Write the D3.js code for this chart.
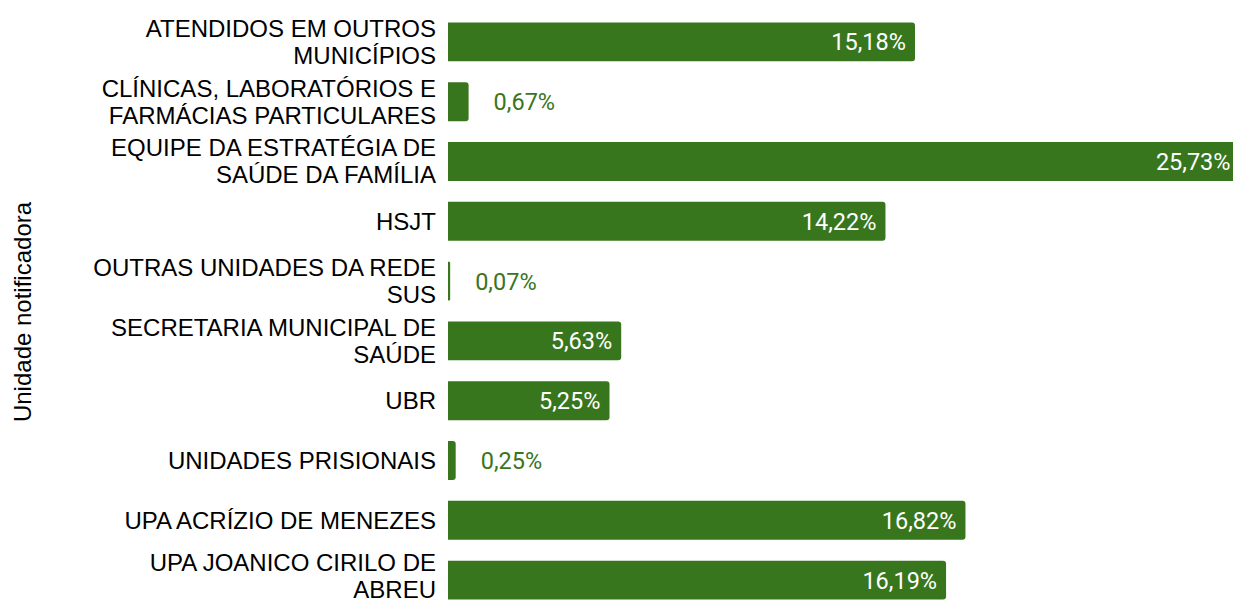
<!DOCTYPE html>
<html>
<head>
<meta charset="utf-8">
<script src="https://cdn.jsdelivr.net/npm/d3@7"></script>
<style>
  body { margin: 0; background: #fff; }
  svg { display: block; }
</style>
</head>
<body>
<svg id="chart" width="1233" height="601"></svg>
<script>
// categories (each label split into its display lines)
var categories = [
  ["ATENDIDOS EM OUTROS", "MUNICÍPIOS"],
  ["CLÍNICAS, LABORATÓRIOS E", "FARMÁCIAS PARTICULARES"],
  ["EQUIPE DA ESTRATÉGIA DE", "SAÚDE DA FAMÍLIA"],
  ["HSJT"],
  ["OUTRAS UNIDADES DA REDE", "SUS"],
  ["SECRETARIA MUNICIPAL DE", "SAÚDE"],
  ["UBR"],
  ["UNIDADES PRISIONAIS"],
  ["UPA ACRÍZIO DE MENEZES"],
  ["UPA JOANICO CIRILO DE", "ABREU"]
];
var values = [15.18, 0.67, 25.73, 14.22, 0.07, 5.63, 5.25, 0.25, 16.82, 16.19];
var valueLabels = ["15,18%", "0,67%", "25,73%", "14,22%", "0,07%", "5,63%", "5,25%", "0,25%", "16,82%", "16,19%"];

var green = "#38761d";
var svg = d3.select("#chart");
var left = 448;

var x = d3.scaleLinear().domain([0, 15.18]).range([left, 915]);
var y = d3.scaleBand().domain(d3.range(values.length)).range([12, 610]).paddingInner(0.35).paddingOuter(0.175);

svg.append("defs").append("clipPath").attr("id", "plot")
  .append("rect").attr("x", 0).attr("y", 0).attr("width", 1233).attr("height", 601);

var g = svg.append("g").attr("clip-path", "url(#plot)");

function barPath(d, i) {
  var x0 = left, x1 = x(d), y0 = y(i), h = y.bandwidth();
  var r = Math.min(3, (x1 - x0) / 2);
  return "M" + x0 + "," + y0 + "H" + (x1 - r) + "Q" + x1 + "," + y0 + " " + x1 + "," + (y0 + r) +
    "V" + (y0 + h - r) + "Q" + x1 + "," + (y0 + h) + " " + (x1 - r) + "," + (y0 + h) + "H" + x0 + "Z";
}

g.selectAll("path.bar").data(values).enter().append("path")
  .attr("class", "bar")
  .attr("d", barPath)
  .attr("fill", green);

// value labels: inside (white) for wide bars, outside (green) for thin ones
function inside(d) { return x(d) - left > 60; }

g.selectAll("text.val").data(values).enter().append("text")
  .attr("class", "val")
  .attr("x", function (d) { return inside(d) ? x(d) - 9 : x(d) + 25; })
  .attr("y", function (d, i) { return y(i) + y.bandwidth() / 2; })
  .attr("dy", "0.36em")
  .attr("text-anchor", function (d) { return inside(d) ? "end" : "start"; })
  .attr("fill", function (d) { return inside(d) ? "#fff" : green; })
  .style("font-family", "Roboto, sans-serif")
  .style("font-size", "23.5px")
  .text(function (d, i) { return valueLabels[i]; });

// category labels
var labels = svg.selectAll("text.cat").data(categories).enter().append("text")
  .attr("class", "cat")
  .attr("text-anchor", "end")
  .attr("fill", "#000")
  .style("font-family", "'Liberation Sans', Arial, sans-serif")
  .style("font-size", "24px");

labels.each(function (lines, i) {
  var cy = y(i) + y.bandwidth() / 2;
  var lh = 27;
  var start = cy - (lines.length - 1) * lh / 2;
  // keep the last line inside the picture
  start = Math.min(start, 590 - (lines.length - 1) * lh);
  d3.select(this).selectAll("tspan").data(lines).enter().append("tspan")
    .attr("x", 436)
    .attr("y", function (l, j) { return start + j * lh; })
    .attr("dy", "0.35em")
    .text(function (l) { return l; });
});

svg.append("text")
  .attr("transform", "translate(31,312) rotate(-90)")
  .attr("text-anchor", "middle")
  .style("font-family", "'Liberation Sans', Arial, sans-serif")
  .style("font-size", "24px")
  .attr("fill", "#000")
  .text("Unidade notificadora");
</script>
</body>
</html>
